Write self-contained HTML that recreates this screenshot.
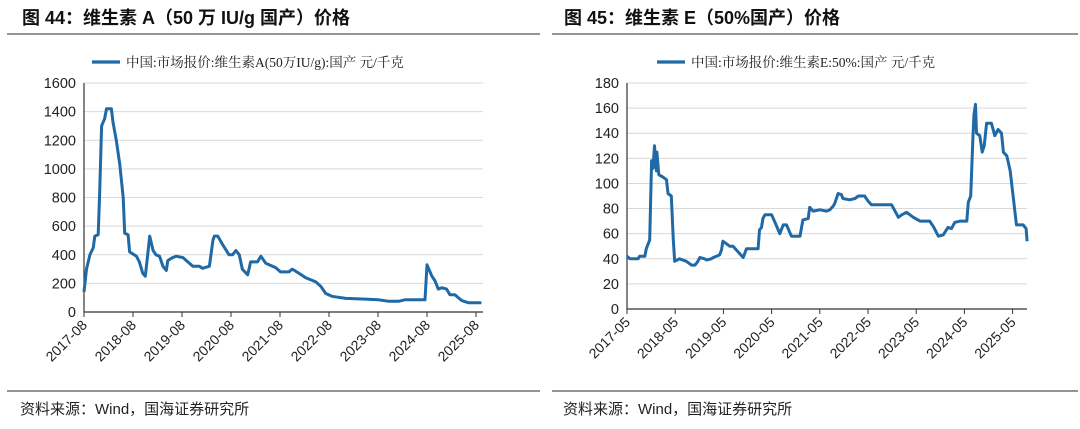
<!DOCTYPE html>
<html><head><meta charset="utf-8"><style>
body{margin:0;width:1080px;height:429px;background:#fff;overflow:hidden;font-family:"Liberation Sans","Noto Sans CJK SC",sans-serif;}
svg{position:absolute;left:0;top:0}
</style></head><body>
<svg width="1080" height="429">
<text x="22" y="24" font-size="18" font-weight="bold" fill="#111">图 44：维生素 A（50 万 IU/g 国产）价格</text>
<text x="564" y="24" font-size="18" font-weight="bold" fill="#111">图 45：维生素 E（50%国产）价格</text>
<line x1="7" y1="34" x2="540" y2="34" stroke="#555" stroke-width="1.2"/>
<line x1="552" y1="34" x2="1078" y2="34" stroke="#555" stroke-width="1.2"/>
<line x1="7" y1="391" x2="540" y2="391" stroke="#555" stroke-width="1.2"/>
<line x1="552" y1="391" x2="1078" y2="391" stroke="#555" stroke-width="1.2"/>
<text x="20" y="414" font-size="15" fill="#222">资料来源：Wind，国海证券研究所</text>
<text x="563" y="414" font-size="15" fill="#222">资料来源：Wind，国海证券研究所</text>
<g id="cA"></g><g id="cE"></g>
</svg>
<script>
const aDates=[17.58,17.63,17.70,17.77,17.80,17.87,17.90,17.94,18.00,18.04,18.14,18.17,18.24,18.31,18.38,18.41,18.48,18.51,18.65,18.71,18.78,18.83,18.88,18.92,18.99,19.05,19.12,19.19,19.26,19.29,19.39,19.46,19.60,19.73,19.80,19.93,20.00,20.14,20.21,20.24,20.31,20.41,20.54,20.61,20.68,20.75,20.81,20.92,20.98,21.12,21.19,21.29,21.49,21.59,21.76,21.83,21.97,22.10,22.31,22.41,22.51,22.64,22.92,23.32,23.59,23.80,24.00,24.13,24.54,24.58,24.68,24.74,24.81,24.88,24.98,25.05,25.15,25.29,25.42,25.69];
const aValues=[140,300,400,450,530,540,840,1300,1350,1420,1420,1330,1200,1030,800,550,540,420,390,350,270,250,400,530,430,400,390,320,290,360,380,390,380,340,320,320,305,320,500,530,530,470,400,400,430,400,300,260,350,350,390,340,310,280,280,300,270,240,210,180,130,110,95,90,85,75,75,85,85,330,250,220,160,170,160,120,120,80,65,65];
const aTicks=["2017-08","2018-08","2019-08","2020-08","2021-08","2022-08","2023-08","2024-08","2025-08"];
const aYTicks=[0,200,400,600,800,1000,1200,1400,1600];
const eDates=[17.33,17.39,17.56,17.59,17.70,17.73,17.80,17.84,17.87,17.90,17.94,17.95,17.99,18.08,18.15,18.18,18.25,18.29,18.32,18.42,18.56,18.67,18.74,18.80,18.84,18.94,18.98,19.08,19.12,19.25,19.29,19.32,19.39,19.46,19.53,19.60,19.74,19.81,19.95,20.05,20.08,20.12,20.15,20.19,20.33,20.40,20.50,20.57,20.64,20.74,20.92,20.98,21.09,21.12,21.19,21.33,21.47,21.54,21.61,21.64,21.71,21.78,21.81,21.95,22.06,22.13,22.26,22.33,22.40,22.82,22.89,22.96,23.03,23.13,23.27,23.41,23.61,23.68,23.79,23.89,23.99,24.06,24.13,24.24,24.38,24.41,24.46,24.51,24.53,24.56,24.58,24.65,24.70,24.74,24.79,24.89,24.96,25.03,25.10,25.14,25.21,25.28,25.34,25.40,25.41,25.55,25.61,25.63];
const eValues=[42,40,40,42,42,48,55,118,112,130,110,125,107,105,103,92,90,55,38,40,38,35,35,38,41,40,39,40,41,43,47,54,52,50,50,47,41,48,48,48,63,65,72,75,75,69,60,67,67,58,58,71,72,81,78,79,78,79,82,84,92,91,88,87,88,90,90,86,83,83,78,73,75,77,73,70,70,66,58,59,65,64,69,70,70,85,90,140,155,163,140,138,125,130,148,148,138,143,140,125,122,110,90,70,67,67,64,54];
const eTicks=["2017-05","2018-05","2019-05","2020-05","2021-05","2022-05","2023-05","2024-05","2025-05"];
const eYTicks=[0,20,40,60,80,100,120,140,160,180];
const NS="http://www.w3.org/2000/svg";
function mk(p,t,a){const e=document.createElementNS(NS,t);for(const k in a)e.setAttribute(k,a[k]);p.appendChild(e);return e;}
function draw(g,o,dates,vals,ticks,yt,legend,name){
 const x=d=>o.x0+(d-o.d0)*o.yr, y=v=>o.y0-(v/o.ymax)*(o.y0-o.y1);
 yt.forEach(v=>{
  if(v>0){const l=mk(g,'line',{x1:o.x0,x2:o.x1,y1:y(v),y2:y(v),stroke:'#d9d9d9','stroke-width':1});
  
  }
  const t=mk(g,'text',{x:o.x0-8,y:y(v)+5,'font-size':14.5,'text-anchor':'end',fill:'#222'});t.textContent=v;
  
  
 });
 const ax=mk(g,'path',{d:`M${o.x0},${o.y1}V${o.y0}H${o.x1}`,stroke:'#333',fill:'none','stroke-width':1.2});
 
 
 ticks.forEach((s,i)=>{
  const tx=x(o.d0+i);
  mk(g,'line',{x1:tx,x2:tx,y1:o.y0,y2:o.y0+5,stroke:'#333'});
  const t=mk(g,'text',{x:tx+4,y:o.y0+14,'font-size':14,'text-anchor':'end',fill:'#222',transform:`rotate(-45 ${tx+4} ${o.y0+14})`});t.textContent=s;
  
  
 });
 const p=mk(g,'path',{d:dates.map((d,i)=>(i?'L':'M')+x(d).toFixed(1)+','+y(vals[i]).toFixed(1)).join(''),stroke:'#1f69a6',fill:'none','stroke-width':3,'stroke-linejoin':'round'});
 
 
 const lg=mk(g,'g',{});
 
 
 mk(lg,'line',{x1:o.lx,x2:o.lx+28,y1:62,y2:62,stroke:'#1f69a6','stroke-width':3.2});
 const lt=mk(lg,'text',{x:o.lx+34,y:67,'font-size':13.5,fill:'#222','font-family':'"Liberation Serif","Noto Serif CJK SC",serif'});lt.textContent=legend;
}
draw(document.getElementById('cA'),{x0:84,x1:483,y0:312,y1:83,d0:17.58,yr:49,ymax:1600,lx:92},aDates,aValues,aTicks,aYTicks,'中国:市场报价:维生素A(50万IU/g):国产 元/千克','series-vitamin-a');
draw(document.getElementById('cE'),{x0:627,x1:1027,y0:309,y1:83,d0:17.33,yr:48.2,ymax:180,lx:657},eDates,eValues,eTicks,eYTicks,'中国:市场报价:维生素E:50%:国产 元/千克','series-vitamin-e');
</script>
</body></html>
